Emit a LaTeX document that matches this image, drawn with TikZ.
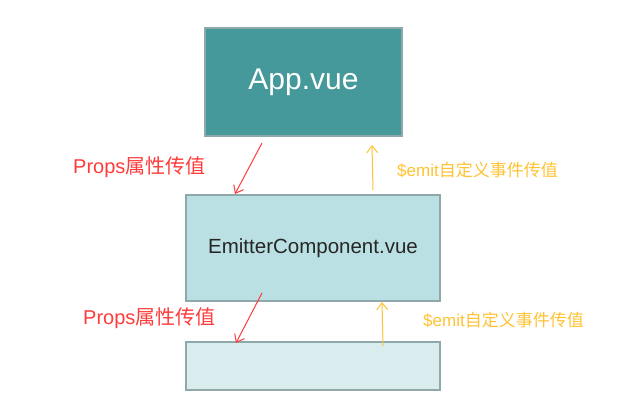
\documentclass[tikz,border=0pt]{standalone}
\usepackage{fontspec}
\setmainfont{Liberation Sans}
\newfontfamily\cjk{Noto Sans CJK SC}
\usetikzlibrary{arrows.meta}

\definecolor{appteal}{HTML}{46999A}
\definecolor{emitblue}{HTML}{BBE0E3}
\definecolor{childblue}{HTML}{D9ECEE}
\definecolor{boxgrey}{HTML}{8FA9AA}
\definecolor{propsred}{HTML}{FF3B3B}
\definecolor{emityellow}{HTML}{FFC233}

\begin{document}
\begin{tikzpicture}[x=1pt,y=-1pt,
  box/.style={draw=boxgrey,line width=1.6pt,inner sep=0pt},
  propslabel/.style={anchor=west,inner sep=0pt,text=propsred,font=\fontsize{20}{24}\selectfont},
  emitlabel/.style={anchor=west,inner sep=0pt,text=emityellow,font=\fontsize{17}{20}\selectfont},
  down/.style={->,>={Straight Barb[length=7pt,width=11pt]},propsred,line width=1pt},
  up/.style={->,>={Straight Barb[length=7pt,width=11pt]},emityellow,line width=1pt}]
\useasboundingbox (0,0) rectangle (628,401);

% boxes
\node[box,fill=appteal,minimum width=197pt,minimum height=108pt,text=white,
  font=\fontsize{30}{36}\selectfont] (app) at (303.5,82) {App.vue};
\node[box,fill=emitblue,minimum width=254pt,minimum height=106pt,text=black!85,
  font=\fontsize{20.5}{24}\selectfont] (emitter) at (313,248) {EmitterComponent.vue};
\node[box,fill=childblue,minimum width=254pt,minimum height=48pt] (child) at (313,366) {};

% arrow ends
\coordinate (propsA from) at (262,143);
\coordinate (propsA to) at (235,194);
\coordinate (emitA from) at (373,190);
\coordinate (emitA to) at (372,145);
\coordinate (propsB from) at (262,293);
\coordinate (propsB to) at (236,343);
\coordinate (emitB from) at (383,346);
\coordinate (emitB to) at (382,302);

\draw[down] (propsA from) -- (propsA to);
\draw[up] (emitA from) -- (emitA to);
\draw[down] (propsB from) -- (propsB to);
\draw[up] (emitB from) -- (emitB to);

% labels
\node[propslabel] (propsA) at (73,167) {Props{\cjk 属性传值}};
\node[emitlabel] (emitA) at (397,170) {\$emit{\cjk 自定义事件传值}};
\node[propslabel] (propsB) at (83,318) {Props{\cjk 属性传值}};
\node[emitlabel] (emitB) at (423,320) {\$emit{\cjk 自定义事件传值}};
\end{tikzpicture}
\end{document}
